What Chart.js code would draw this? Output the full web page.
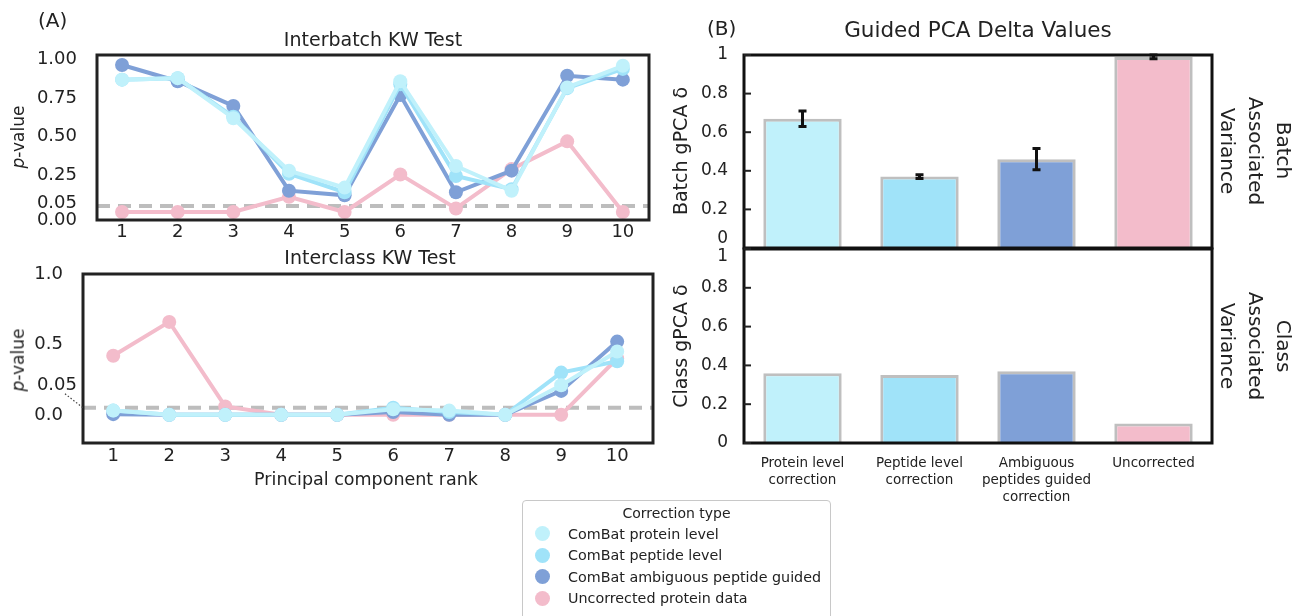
<!DOCTYPE html>
<html>
<head>
<meta charset="utf-8">
<script src="https://cdn.jsdelivr.net/npm/chart.js@4.4.1/dist/chart.umd.min.js"></script>
<style>
  body { margin: 0; background: #fff; width: 1293px; height: 616px; position: relative; overflow: hidden;
         font-family: "DejaVu Sans", sans-serif; color: #222; }
  canvas { position: absolute; }
  .t { position: absolute; white-space: nowrap; line-height: 1.2; }
  .rot { transform: translate(-50%, -50%) rotate(-90deg); }
  .side { writing-mode: vertical-rl; text-align: center; line-height: 28px; font-size: 20px;
          transform: translate(-50%, -50%); }
  #legend { position: absolute; left: 522px; top: 500px; width: 307px; height: 130px;
            border: 1px solid #c8c8c8; border-radius: 4px; font-size: 14.3px; }
  #legend .ttl { text-align: center; margin-top: 4px; margin-bottom: 2px; font-size: 14px; }
  #legend .row { height: 21.5px; display: flex; align-items: center; }
  #legend .dot { width: 15px; height: 15px; border-radius: 50%; margin-left: 12px; margin-right: 18px; }
</style>
</head>
<body>
<canvas id="batchKW" width="680" height="245" style="left:0;top:0"></canvas>
<canvas id="classKW" width="680" height="260" style="left:0;top:240px"></canvas>
<canvas id="batchDelta" width="633" height="250" style="left:660px;top:0"></canvas>
<canvas id="classDelta" width="633" height="270" style="left:660px;top:240px"></canvas>

<div class="t" style="left:38px;top:8px;font-size:20px">(A)</div>
<div class="t" style="left:373px;top:28px;font-size:19px;transform:translateX(-50%)">Interbatch KW Test</div>
<div class="t" style="left:370px;top:246px;font-size:19px;transform:translateX(-50%)">Interclass KW Test</div>
<div class="t" style="left:366px;top:469px;font-size:17.5px;transform:translateX(-50%)">Principal component rank</div>
<div class="t rot" style="left:18px;top:137px;font-size:17px"><i>p</i>-value</div>
<div class="t rot" style="left:18px;top:360px;font-size:17px"><i>p</i>-value</div>

<div class="t" style="left:707px;top:16px;font-size:20px">(B)</div>
<div class="t" style="left:978px;top:17px;font-size:21.5px;transform:translateX(-50%)">Guided PCA Delta Values</div>
<div class="t rot" style="left:680px;top:151px;font-size:19px">Batch gPCA δ</div>
<div class="t rot" style="left:680px;top:346px;font-size:19px">Class gPCA δ</div>
<div class="t side" style="left:1256px;top:151px">Batch<br>Associated<br>Variance</div>
<div class="t side" style="left:1256px;top:346px">Class<br>Associated<br>Variance</div>

<div id="legend"><div class="ttl">Correction type</div></div>

<script>
// principal component ranks (x axis of panel A)
const pcRank = [1, 2, 3, 4, 5, 6, 7, 8, 9, 10];
const seriesNames = ['ComBat protein level', 'ComBat peptide level', 'ComBat ambiguous peptide guided', 'Uncorrected protein data'];
const seriesColors = ['#c0f1fb', '#a0e3f9', '#7fa0d7', '#f3bccb'];

// Interbatch KW p-values
const batchProtein = [0.87, 0.88, 0.62, 0.28, 0.17, 0.86, 0.31, 0.15, 0.82, 0.96];
const batchPeptide = [0.87, 0.88, 0.63, 0.26, 0.14, 0.84, 0.245, 0.16, 0.815, 0.94];
const batchAmbig   = [0.965, 0.86, 0.70, 0.15, 0.12, 0.77, 0.14, 0.28, 0.895, 0.87];
const batchUncorr  = [0.012, 0.012, 0.012, 0.11, 0.012, 0.255, 0.035, 0.29, 0.47, 0.012];

// Interclass KW p-values
const classProtein = [0.03, 0, 0, 0, 0, 0.04, 0.03, 0, 0.21, 0.45];
const classPeptide = [0.03, 0, 0, 0, 0, 0.05, 0.02, 0, 0.30, 0.38];
const classAmbig   = [0.005, 0, 0, 0, 0, 0.02, 0, 0, 0.17, 0.52];
const classUncorr  = [0.42, 0.66, 0.06, 0, 0, 0, 0, 0, 0, 0.40];

const threshold = 0.05;
const batchTicks = [0, 0.05, 0.25, 0.5, 0.75, 1];
const batchTickLabels = ['0.00', '0.05', '0.25', '0.50', '0.75', '1.00'];
const classTicks = [0, 0.05, 0.5, 1];
const classTickLabels = ['0.0', '0.05', '0.5', '1.0'];

// panel B: guided PCA delta
const methods = [['Protein level', 'correction'], ['Peptide level', 'correction'],
                 ['Ambiguous', 'peptides guided', 'correction'], ['Uncorrected']];
const batchDeltaVals = [0.67, 0.37, 0.46, 0.99];
const batchDeltaErr  = [0.04, 0.01, 0.055, 0.01];
const classDeltaVals = [0.36, 0.35, 0.37, 0.10];
const deltaTicks = [0, 0.2, 0.4, 0.6, 0.8, 1];
const deltaTickLabels = ['0', '0.2', '0.4', '0.6', '0.8', '1'];

const FONT = '"DejaVu Sans", sans-serif';
Chart.defaults.font.family = FONT;
Chart.defaults.color = '#222';

// frame, hand placed tick labels, inward ticks, error bars
const deco = {
  id: 'deco',
  afterDatasetsDraw(chart, args, o) {
    if (!o.err) return;
    const ctx = chart.ctx, y = chart.scales.y;
    const vals = chart.data.datasets[0].data;
    ctx.save();
    ctx.strokeStyle = '#111';
    ctx.lineWidth = 3;
    chart.getDatasetMeta(0).data.forEach((bar, i) => {
      const top = y.getPixelForValue(vals[i] + o.err[i]);
      const bot = y.getPixelForValue(vals[i] - o.err[i]);
      ctx.beginPath();
      ctx.moveTo(bar.x, top); ctx.lineTo(bar.x, bot);
      ctx.moveTo(bar.x - 4, top); ctx.lineTo(bar.x + 4, top);
      ctx.moveTo(bar.x - 4, bot); ctx.lineTo(bar.x + 4, bot);
      ctx.stroke();
    });
    ctx.restore();
  },
  afterDraw(chart, args, o) {
    const ctx = chart.ctx, a = chart.chartArea, y = chart.scales.y;
    ctx.save();
    ctx.strokeStyle = o.frameColor;
    ctx.lineWidth = o.frameWidth;
    ctx.strokeRect(a.left, a.top, a.right - a.left, a.bottom - a.top);
    ctx.font = o.font;
    ctx.fillStyle = '#222';
    ctx.textAlign = 'right';
    ctx.textBaseline = 'middle';
    o.ticks.forEach((v, i) => {
      const py = y.getPixelForValue(v);
      const ly = py + (o.shift[i] || 0);
      const lx = o.labelRight + ((o.dx && o.dx[i]) || 0);
      ctx.fillText(o.labels[i], lx, ly);
      if (o.inTick) {
        ctx.lineWidth = 2;
        ctx.strokeStyle = '#222';
        ctx.beginPath();
        ctx.moveTo(a.left, py); ctx.lineTo(a.left + o.inTick, py);
        ctx.stroke();
      }
      if (o.leader === i) {
        ctx.lineWidth = 1.2;
        ctx.strokeStyle = '#444';
        ctx.setLineDash([1.5, 2]);
        ctx.beginPath();
        ctx.moveTo(lx - 12, ly + 8); ctx.lineTo(a.left, py);
        ctx.stroke();
        ctx.setLineDash([]);
      }
    });
    ctx.restore();
  }
};

function lineSets(vals, xMin, xMax) {
  const sets = vals.map((v, k) => ({
    data: pcRank.map((x, i) => ({ x: x, y: v[i] })),
    borderColor: seriesColors[k],
    backgroundColor: seriesColors[k],
    pointBackgroundColor: seriesColors[k],
    borderWidth: 4,
    pointRadius: 7,
    pointBorderWidth: 0,
    clip: false
  }));
  sets.push({
    data: [{ x: xMin, y: threshold }, { x: xMax, y: threshold }],
    borderColor: '#bdbdbd',
    borderWidth: 4,
    borderDash: [13, 8],
    pointRadius: 0
  });
  return sets;
}

function kwChart(id, vals, cfg) {
  return new Chart(document.getElementById(id), {
    type: 'line',
    data: { datasets: lineSets(vals, cfg.xMin, cfg.xMax) },
    options: {
      responsive: false,
      animation: false,
      events: [],
      layout: { padding: cfg.pad },
      plugins: { legend: { display: false }, tooltip: { enabled: false }, deco: cfg.deco },
      scales: {
        x: {
          type: 'linear', min: cfg.xMin, max: cfg.xMax,
          afterBuildTicks: s => { s.ticks = pcRank.map(v => ({ value: v })); },
          afterFit: s => { s.height = cfg.xHeight; },
          ticks: { font: { size: 18 }, padding: cfg.xPad, color: '#222' },
          grid: { display: false, drawTicks: false, tickLength: 0 },
          border: { display: false }
        },
        y: {
          min: cfg.yMin, max: cfg.yMax,
          afterBuildTicks: s => { s.ticks = cfg.deco.ticks.map(v => ({ value: v })); },
          afterFit: s => { s.width = cfg.yWidth; },
          ticks: { display: false },
          grid: { display: false, drawTicks: false, tickLength: 0 },
          border: { display: false }
        }
      }
    },
    plugins: [deco]
  });
}

kwChart('batchKW', [batchProtein, batchPeptide, batchAmbig, batchUncorr], {
  xMin: 0.55, xMax: 10.47, yMin: -0.04, yMax: 1.03,
  pad: { left: 0, right: 31, top: 55, bottom: 0 }, xHeight: 25, xPad: 2, yWidth: 97,
  deco: { ticks: batchTicks, labels: batchTickLabels, shift: [6, -3, 0, 0, 0, 0], labelRight: 77,
          font: '18px ' + FONT, frameColor: '#222', frameWidth: 3 }
});

kwChart('classKW', [classProtein, classPeptide, classAmbig, classUncorr], {
  xMin: 0.46, xMax: 10.64, yMin: -0.2, yMax: 1.0,
  pad: { left: 0, right: 27, top: 34, bottom: 0 }, xHeight: 57, xPad: 3, yWidth: 83,
  deco: { ticks: classTicks, labels: classTickLabels, shift: [0, -22, 0, 0], dx: [0, 14, 0, 0], leader: 1,
          labelRight: 63, font: '18px ' + FONT, frameColor: '#222', frameWidth: 3 }
});

function deltaChart(id, vals, cfg) {
  return new Chart(document.getElementById(id), {
    type: 'bar',
    data: {
      labels: methods,
      datasets: [{
        data: vals,
        backgroundColor: seriesColors,
        borderColor: '#bfbfbf',
        borderWidth: 3,
        barPercentage: 0.67,
        categoryPercentage: 1
      }]
    },
    options: {
      responsive: false,
      animation: false,
      events: [],
      layout: { padding: cfg.pad },
      plugins: { legend: { display: false }, tooltip: { enabled: false }, deco: cfg.deco },
      scales: {
        x: {
          display: cfg.showX,
          afterFit: s => { s.height = cfg.xHeight; },
          ticks: { font: { size: 13.5, lineHeight: 1.27 }, padding: 12, color: '#222', maxRotation: 0, autoSkip: false },
          grid: { display: false, drawTicks: false, tickLength: 0 },
          border: { display: false }
        },
        y: {
          min: 0, max: 1,
          afterBuildTicks: s => { s.ticks = deltaTicks.map(v => ({ value: v })); },
          afterFit: s => { s.width = 84; },
          ticks: { display: false },
          grid: { display: false, drawTicks: false, tickLength: 0 },
          border: { display: false }
        }
      }
    },
    plugins: [deco]
  });
}

deltaChart('batchDelta', batchDeltaVals, {
  showX: false, xHeight: 0,
  pad: { left: 0, right: 81, top: 55, bottom: 2 },
  deco: { ticks: deltaTicks, labels: deltaTickLabels, shift: [-9, 0, 0, 0, 0, 0], labelRight: 68, inTick: 7,
          font: '17px ' + FONT, frameColor: '#111', frameWidth: 3, err: batchDeltaErr }
});

deltaChart('classDelta', classDeltaVals, {
  showX: true, xHeight: 67,
  pad: { left: 0, right: 81, top: 9, bottom: 0 },
  deco: { ticks: deltaTicks, labels: deltaTickLabels, shift: [0, 0, 0, 0, 0, 8], labelRight: 68, inTick: 7,
          font: '17px ' + FONT, frameColor: '#111', frameWidth: 3 }
});

// legend box
const legend = document.getElementById('legend');
seriesNames.forEach((name, k) => {
  const row = document.createElement('div');
  row.className = 'row';
  row.innerHTML = '<span class="dot" style="background:' + seriesColors[k] + '"></span><span>' + name + '</span>';
  legend.appendChild(row);
});
</script>
</body>
</html>
